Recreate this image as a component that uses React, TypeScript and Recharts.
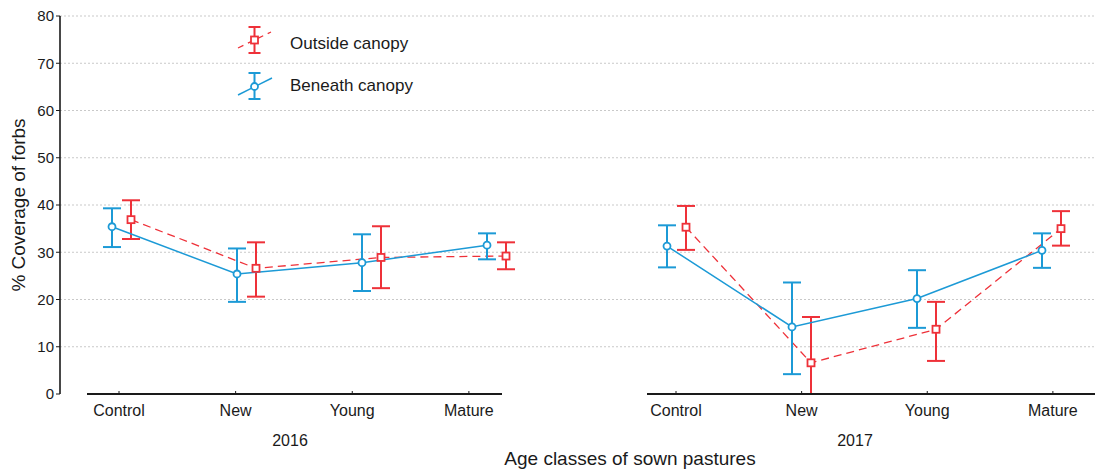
import { LineChart, Line, XAxis, YAxis, CartesianGrid, ErrorBar, ReferenceLine, Customized } from "recharts";

const categories = ["Control", "New", "Young", "Mature"];
const years = ["2016", "2017"];
const yTicks = [0, 10, 20, 30, 40, 50, 60, 70, 80];

// Outside canopy: mean with lower / upper bounds
const outsideMean2016 = [36.9, 26.6, 28.9, 29.2];
const outsideLow2016 = [32.8, 20.6, 22.4, 26.4];
const outsideHigh2016 = [41.0, 32.1, 35.5, 32.1];
const outsideMean2017 = [35.3, 6.6, 13.7, 35.0];
const outsideLow2017 = [30.5, 0.0, 7.0, 31.4];
const outsideHigh2017 = [39.8, 16.3, 19.5, 38.7];

// Beneath canopy
const beneathMean2016 = [35.4, 25.4, 27.8, 31.5];
const beneathLow2016 = [31.1, 19.5, 21.8, 28.5];
const beneathHigh2016 = [39.3, 30.8, 33.8, 34.0];
const beneathMean2017 = [31.3, 14.2, 20.2, 30.4];
const beneathLow2017 = [26.8, 4.2, 14.0, 26.7];
const beneathHigh2017 = [35.7, 23.6, 26.2, 34.0];

const RED = "#ee3139";
const BLUE = "#1c9ad6";
const INK = "#1a1a1a";
const FONT = "'Liberation Sans', Arial, sans-serif";

// x layout in category units: each year panel starts at its own offset,
// the two series are nudged apart so the error bars do not overlap
const PANEL_START = [0, 4.44];
const NUDGE = 0.076;
const TICK_START = [-0.02, 4.436];
const TICK_STEP = [0.933, 1.005];
const X_DOMAIN: [number, number] = [-0.492, 7.788];
const AXIS_SEGMENTS: [number, number][] = [[-0.276, 3.044], [4.204, 7.788]];

const build = (mean: number[], low: number[], high: number[], panel: number, side: number) =>
  mean.map((m, i) => ({
    x: PANEL_START[panel] + i + side * NUDGE,
    y: m,
    err: [+(m - low[i]).toFixed(2), +(high[i] - m).toFixed(2)],
  }));

const outside = [
  build(outsideMean2016, outsideLow2016, outsideHigh2016, 0, 1),
  build(outsideMean2017, outsideLow2017, outsideHigh2017, 1, 1),
];
const beneath = [
  build(beneathMean2016, beneathLow2016, beneathHigh2016, 0, -1),
  build(beneathMean2017, beneathLow2017, beneathHigh2017, 1, -1),
];

const xTicks = years.flatMap((_, p) => categories.map((_, i) => +(TICK_START[p] + i * TICK_STEP[p]).toFixed(3)));
const xTickLabel = (v: number) => categories[xTicks.indexOf(v) % categories.length] ?? "";

const XTick = ({ x, y, payload }: any) => (
  <g>
    <line x1={x} y1={y} x2={x} y2={y - 3} stroke={INK} strokeWidth={1} />
    <text x={x} y={y + 22} textAnchor="middle" fontSize={16} fill={INK} fontFamily={FONT}>
      {xTickLabel(payload.value)}
    </text>
  </g>
);

const SquareDot = (props: any) => {
  const { cx, cy, index } = props;
  if (cx == null || cy == null) return <g key={index} />;
  return <rect key={index} x={cx - 3.5} y={cy - 3.5} width={7} height={7} fill="#fff" stroke={RED} strokeWidth={1.8} />;
};

// titles, year labels and the legend box
const Annotations = () => (
  <g fontFamily={FONT} fill={INK}>
    <text transform="translate(25,205) rotate(-90)" textAnchor="middle" fontSize={19}>% Coverage of forbs</text>
    <text x={630} y={465} textAnchor="middle" fontSize={19}>Age classes of sown pastures</text>
    <text x={290} y={446} textAnchor="middle" fontSize={16}>{years[0]}</text>
    <text x={855} y={446} textAnchor="middle" fontSize={16}>{years[1]}</text>

    <line x1={238} y1={48} x2={271} y2={32} stroke={RED} strokeWidth={1.3} strokeDasharray="6 5" />
    <line x1={254.5} y1={27} x2={254.5} y2={53} stroke={RED} strokeWidth={2} />
    <line x1={248.5} y1={27} x2={260.5} y2={27} stroke={RED} strokeWidth={2} />
    <line x1={248.5} y1={53} x2={260.5} y2={53} stroke={RED} strokeWidth={2} />
    <rect x={251} y={36.5} width={7} height={7} fill="#fff" stroke={RED} strokeWidth={1.8} />
    <text x={290} y={49} fontSize={17}>Outside canopy</text>

    <line x1={238} y1={95} x2={272} y2={78} stroke={BLUE} strokeWidth={1.5} />
    <line x1={254.5} y1={73} x2={254.5} y2={99} stroke={BLUE} strokeWidth={2} />
    <line x1={248.5} y1={73} x2={260.5} y2={73} stroke={BLUE} strokeWidth={2} />
    <line x1={248.5} y1={99} x2={260.5} y2={99} stroke={BLUE} strokeWidth={2} />
    <circle cx={254.5} cy={86.5} r={3.5} fill="#fff" stroke={BLUE} strokeWidth={1.8} />
    <text x={290} y={91} fontSize={17}>Beneath canopy</text>
  </g>
);

export default function App() {
  return (
    <div style={{ position: "absolute", left: 0, top: 0, width: 1097, height: 470, background: "#fff", fontFamily: FONT }}>
      <LineChart width={1097} height={470} margin={{ top: 16, right: 2, bottom: 0, left: 0 }}>
        <CartesianGrid vertical={false} horizontalValues={yTicks.slice(1)} stroke="#c9c9c9" strokeDasharray="2 2" />
        <XAxis
          type="number"
          dataKey="x"
          domain={X_DOMAIN}
          allowDataOverflow
          ticks={xTicks}
          interval={0}
          height={76}
          axisLine={false}
          tickLine={false}
          tickSize={0}
          tickMargin={0}
          tick={<XTick />}
        />
        <YAxis
          type="number"
          domain={[0, 80]}
          allowDataOverflow
          ticks={yTicks}
          width={60}
          tickSize={4}
          tickMargin={2}
          axisLine={{ stroke: INK, strokeWidth: 1.6 }}
          tickLine={{ stroke: INK }}
          tick={{ fontSize: 15, fill: INK, fontFamily: FONT }}
        />
        {outside.map((d, i) => (
          <Line
            key={`outside-${i}`}
            data={d}
            dataKey="y"
            stroke={RED}
            strokeWidth={1.3}
            strokeDasharray="8 5"
            dot={SquareDot}
            activeDot={false}
            isAnimationActive={false}
          >
            <ErrorBar dataKey="err" direction="y" width={9} stroke={RED} strokeWidth={2} isAnimationActive={false} />
          </Line>
        ))}
        {beneath.map((d, i) => (
          <Line
            key={`beneath-${i}`}
            data={d}
            dataKey="y"
            stroke={BLUE}
            strokeWidth={1.5}
            dot={{ r: 3.5, fill: "#fff", stroke: BLUE, strokeWidth: 1.8 }}
            activeDot={false}
            isAnimationActive={false}
          >
            <ErrorBar dataKey="err" direction="y" width={9} stroke={BLUE} strokeWidth={2} isAnimationActive={false} />
          </Line>
        ))}
        {/* x axis baseline, split per year panel; drawn last so it sits over any bar cap at zero */}
        {AXIS_SEGMENTS.map(([a, b], i) => (
          <ReferenceLine
            key={`axis-${i}`}
            segment={[{ x: a, y: 0 }, { x: b, y: 0 }]}
            stroke={INK}
            strokeWidth={2.2}
            ifOverflow="visible"
          />
        ))}
        <Customized component={<Annotations />} />
      </LineChart>
    </div>
  );
}
